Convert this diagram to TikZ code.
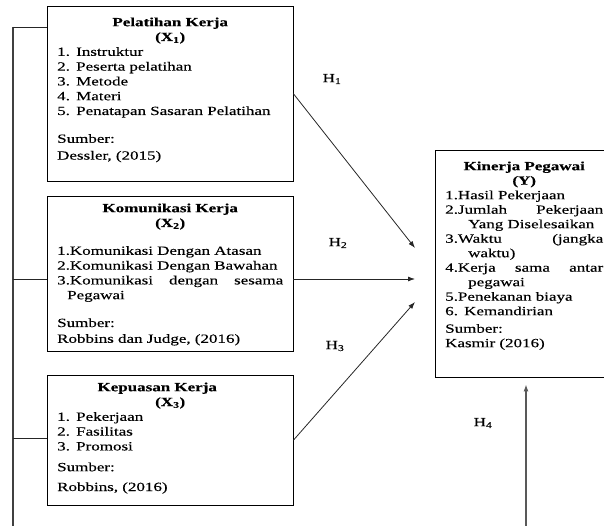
\documentclass[tikz,border=0pt]{standalone}
\usepackage{fontspec}
\setmainfont{Liberation Serif}[FakeStretch=1.36,FakeBold=0.3]
\usepackage{tikz}
\usetikzlibrary{calc,positioning,arrows,arrows.meta}
\hyphenpenalty=10000
\tikzset{
  kotak/.style={
      draw,
      anchor=north west,
      align=left,
      inner xsep=10pt,
      inner ysep=0pt,
      text width=226pt,
      font=\fontsize{12.5}{14.8}\selectfont,
  },
  garis/.style={
      draw=black!75,
      line width=1.2pt,
  },
  cabang/.style={
      draw=black!85,
      line width=0.8pt,
  },
  panah/.style={
      draw=black!85,
      line width=0.8pt,
      -{Latex[length=7pt,width=5pt]},
  },
  hipotesis/.style={
      font=\fontsize{12.5}{14.8}\selectfont,
      inner sep=1pt,
  },
}
\newcommand{\judul}[2]{%
    {\centering\textbf{#1}\\\textbf{(#2)}\par}%
}

\begin{document}
\begin{tikzpicture}[x=1pt,y=1pt]
  \useasboundingbox (0,0) rectangle (604,-526);

  \node[kotak, text height=20pt, text depth=155pt] (x1) at (47,-6) {%
      \judul{Pelatihan Kerja}{X\textsubscript{1}}
      1. Instruktur\\
      2. Peserta pelatihan\\
      3. Metode\\
      4. Materi\\
      5. Penatapan Sasaran Pelatihan\\[13pt]
      Sumber:\\[2pt]
      Dessler, (2015)};
  \node[kotak, text height=16pt, text depth=139pt] (x2) at (47,-196) {%
      \judul{Komunikasi Kerja}{X\textsubscript{2}}
      \vspace{13pt}
      1.Komunikasi Dengan Atasan\\
      2.Komunikasi Dengan Bawahan\\
      3.Komunikasi \hfill dengan \hfill sesama\\
      \hspace*{10pt}Pegawai\\[13pt]
      Sumber:\\[1pt]
      Robbins dan Judge, (2016)};
  \node[kotak, text height=16pt, text depth=114pt] (x3) at (47,-375) {%
      \judul{Kepuasan Kerja\kern26pt}{X\textsubscript{3}}
      1. Pekerjaan\\
      2. Fasilitas\\
      3. Promosi\\[6pt]
      Sumber:\\[5pt]
      Robbins, (2016)};
  \node[kotak, text width=158pt, inner xsep=10pt, text height=20pt, text depth=207pt,
        font=\fontsize{12.5}{14.5}\selectfont] (y) at (435,-150) {%
      \judul{Kinerja Pegawai}{Y}
      1.Hasil Pekerjaan\\
      2.Jumlah \hfill Pekerjaan\\
      \hspace*{23pt}Yang Diselesaikan\\
      3.Waktu \hfill (jangka\\
      \hspace*{23pt}waktu)\\
      4.Kerja \hfill sama \hfill antar\\
      \hspace*{23pt}pegawai\\
      5.Penekanan biaya\\
      6. Kemandirian\\[3pt]
      Sumber:\\
      Kasmir (2016)};

  % garis kiri
  \coordinate (k1) at (13,-27);
  \coordinate (k2) at (13,-279);
  \coordinate (k3) at (13,-438);
  \coordinate (kbawah) at (13,-526);
  \draw[garis] (k1) -- (kbawah);
  \draw[cabang] (k1) -- (k1 -| x1.west);
  \draw[cabang] (k2) -- (k2 -| x2.west);
  \draw[cabang] (k3) -- (k3 -| x3.west);

  % panah ke Y
  \coordinate (t1) at (415,-248);
  \coordinate (t2) at (415,-279);
  \coordinate (t3) at (415,-302);
  \draw[panah] (x1.east) -- (t1);
  \draw[panah] (k2 -| x2.east) -- (t2);
  \draw[panah] (x3.east) -- (t3);

  \coordinate (h4bawah) at (526,-526);
  \draw[panah, draw=black!65, line width=1.6pt, shorten >=7pt] (h4bawah) -- (h4bawah |- y.south);

  \node[hipotesis] (h1) at (332,-79) {H\textsubscript{1}};
  \node[hipotesis] (h2) at (338,-243) {H\textsubscript{2}};
  \node[hipotesis] (h3) at (335,-346) {H\textsubscript{3}};
  \node[hipotesis] (h4) at (483,-423) {H\textsubscript{4}};
\end{tikzpicture}
\end{document}
